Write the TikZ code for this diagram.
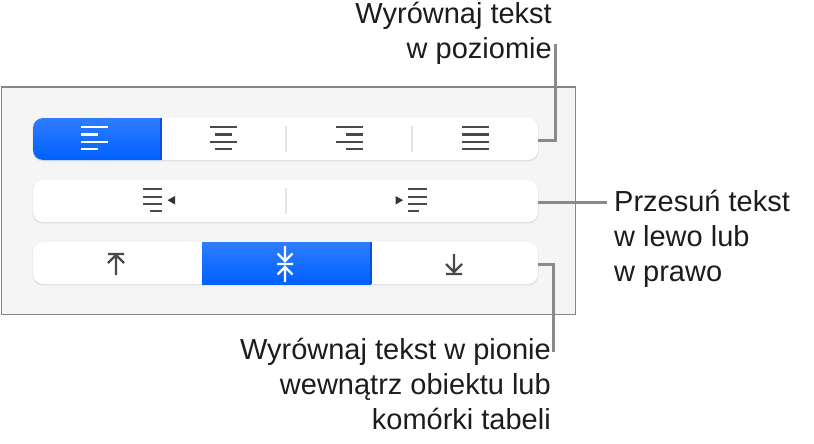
\documentclass[tikz,border=0pt]{standalone}
\usepackage{fontspec}
\setmainfont{Liberation Sans}
\usetikzlibrary{positioning}
\definecolor{panelfill}{HTML}{F5F5F5}
\definecolor{panelline}{HTML}{858585}
\definecolor{leadline}{HTML}{8A8A8A}
\definecolor{icongray}{HTML}{4A4A4A}
\definecolor{sepgray}{HTML}{E4E4E4}
\definecolor{bluetop}{HTML}{2F7DFF}
\definecolor{bluebot}{HTML}{0060FF}
\definecolor{blueedge}{HTML}{0A50D8}
\definecolor{labelblack}{HTML}{1C1C1C}
\tikzset{
  panel/.style={draw=panelline,fill=panelfill,line width=1pt,rectangle,inner sep=0pt,minimum width=574pt,minimum height=227pt},
  btnrow/.style={fill=white,rounded corners=10pt,inner sep=0pt,minimum width=505pt,minimum height=42pt},
  btnshadow/.style={fill=black!13,rounded corners=10pt,inner sep=0pt,minimum width=506pt,minimum height=43pt},
  calllabel/.style={font=\fontsize{29}{35}\selectfont,text=labelblack,inner sep=0pt},
  lead/.style={draw=leadline,line width=3pt},
  iconline/.style={draw=icongray,line width=2.3pt},
  whiteline/.style={draw=white,line width=2.3pt},
  sepline/.style={draw=sepgray,line width=1.6pt},
}
\begin{document}
\begin{tikzpicture}[x=1pt,y=-1pt]
  \useasboundingbox (0,0) rectangle (814,444);
  \node[panel] (box) at (288,200.5) {};
  % button rows
  \node[btnshadow] at (285.5,139.8) {};
  \node[btnshadow] at (285.5,201.8) {};
  \node[btnshadow] at (285.5,263.8) {};
  \node[btnrow] (halign) at (285.5,139) {};
  \node[btnrow] (indent) at (285.5,201) {};
  \node[btnrow] (valign) at (285.5,263) {};
  % selected segments
  \shade[top color=bluetop,bottom color=bluebot] (161,118) -- (43,118) arc[start angle=-90,end angle=-180,radius=10] -- (33,150) arc[start angle=180,end angle=90,radius=10] -- (161,160) -- cycle;
  \shade[top color=bluetop,bottom color=bluebot] (202,242) rectangle (371,284);
  \draw[blueedge,line width=1.2pt] (161,118) -- (161,160);
  \draw[blueedge,line width=1.2pt] (371,242) -- (371,284);
  % separators
  \draw[sepline] (286,126) -- (286,152);
  \draw[sepline] (412,126) -- (412,152);
  \draw[sepline] (286,188) -- (286,214);
  % top row icons
  \draw[whiteline] (81,127) -- (108,127) (81,134.5) -- (98,134.5) (81,141.7) -- (108,141.7) (81,149) -- (98,149);
  \draw[iconline] (209.5,127) -- (236.5,127) (214.5,134.5) -- (231.5,134.5) (209.5,141.7) -- (236.5,141.7) (214.5,149) -- (231.5,149);
  \draw[iconline] (335.5,127) -- (362.5,127) (346,134.5) -- (362.5,134.5) (335.5,141.7) -- (362.5,141.7) (346,149) -- (362.5,149);
  \draw[iconline] (462,127) -- (489,127) (462,134.5) -- (489,134.5) (462,141.7) -- (489,141.7) (462,149) -- (489,149);
  % middle row icons
  \draw[iconline] (143,189) -- (162,189) (143,196.7) -- (162,196.7) (143,204) -- (162,204) (150,211) -- (162,211);
  \fill[black!80] (175,196) -- (175,204.5) -- (167.5,200.2) -- cycle;
  \draw[iconline] (408,189) -- (427,189) (408,196.7) -- (427,196.7) (408,204) -- (427,204) (408,211) -- (419,211);
  \fill[black!80] (395.5,196) -- (395.5,204.5) -- (403,200.2) -- cycle;
  % bottom row icons
  \draw[iconline] (108,254) -- (124,254) (116,275) -- (116,255) (108,263) -- (116,255) -- (124,263);
  \draw[whiteline] (277,264) -- (293,264) (285,246) -- (285,261) (277.5,253.5) -- (285,261) -- (292.5,253.5) (285,282) -- (285,267) (277.5,274.5) -- (285,267) -- (292.5,274.5);
  \draw[iconline] (446,274) -- (462,274) (454,254) -- (454,272) (446,264) -- (454,272) -- (462,264);
  % labels
  \node[calllabel,align=right,anchor=north east] (htext) at (552,2) {Wyrównaj tekst\\w poziomie};
  \node[calllabel,align=left,anchor=north west] (itext) at (614,190) {Przesuń tekst\\w lewo lub\\w prawo};
  \node[calllabel,align=right,anchor=north east] (vtext) at (551,338) {Wyrównaj tekst w pionie\\wewnątrz obiektu lub\\komórki tabeli};
  % connector ends
  \coordinate (hend) at (555,44);
  \coordinate (iend) at (607,202);
  \coordinate (vend) at (553,352);
  \draw[lead] (halign.east |- 0,140) -- (555,140) -- (hend);
  \draw[lead] (indent.east |- iend) -- (iend);
  \draw[lead] (valign.east |- 0,264) -- (553,264) -- (vend);
\end{tikzpicture}
\end{document}
